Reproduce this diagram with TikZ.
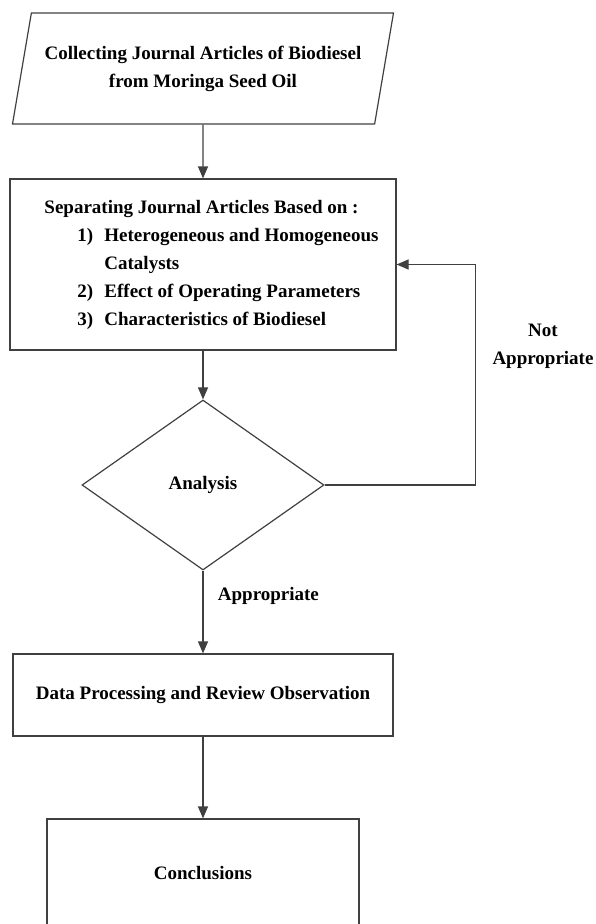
\documentclass[tikz,border=0pt]{standalone}
\usepackage{fontspec}
\setmainfont{Liberation Serif}
\usetikzlibrary{arrows.meta, shapes.geometric, positioning}

\newcommand{\itemno}[1]{\hspace*{50pt}\makebox[27pt][l]{#1}}

\begin{document}
\begin{tikzpicture}[x=1pt,y=1pt,line width=1.2pt,node distance=200pt,on grid,>={Triangle[length=12pt,width=10pt]},
      every node/.style={font=\bfseries\fontsize{19}{28}\selectfont},
      block/.style={draw=black!75,rectangle,inner sep=0pt},
      io/.style={draw=black!75,trapezium,trapezium left angle=67.5,trapezium right angle=112.5,
        trapezium stretches body=true,minimum width=381pt,minimum height=111pt,inner sep=0pt,align=center},
      check/.style={draw=black!75,diamond,aspect=1.42,minimum width=242pt,minimum height=170pt,inner sep=0pt},
      link/.style={->,draw=black!75}]
      \useasboundingbox (0,0) rectangle (595,-924);
      \clip (0,0) rectangle (595,-924);
      \node[block, minimum width=386pt, minimum height=171pt, align=left] (sep) at (203,-264.5)
        {\hspace*{17pt}Separating Journal Articles Based on :\\
         \itemno{1)}Heterogeneous and Homogeneous\\
         \hspace*{77pt}Catalysts\\
         \itemno{2)}Effect of Operating Parameters\\
         \itemno{3)}Characteristics of Biodiesel};
      \node[io] (collect) [above=196pt of sep] {Collecting Journal Articles of Biodiesel\\from Moringa Seed Oil};
      \node[check] (ana) [below=220.5pt of sep] {Analysis};
      \node[block, minimum width=380pt, minimum height=82pt] (proc) [below=210pt of ana] {Data Processing and Review Observation};
      \node[block, minimum width=312pt, minimum height=108pt] (concl) [below=178pt of proc] {Conclusions};
      \node[align=center] (notapp) at (543,-346) {Not\\Appropriate};
      \draw[link] (collect) -- (sep);
      \draw[link] (sep) -- (ana);
      \draw[link] (ana) -- node[pos=0.3, anchor=west, xshift=11pt] (app) {Appropriate} (proc);
      \draw[link] (proc) -- (concl);
      \draw[link] (ana.east) -- ++(151,0) |- (sep.east);
    \end{tikzpicture}
\end{document}
